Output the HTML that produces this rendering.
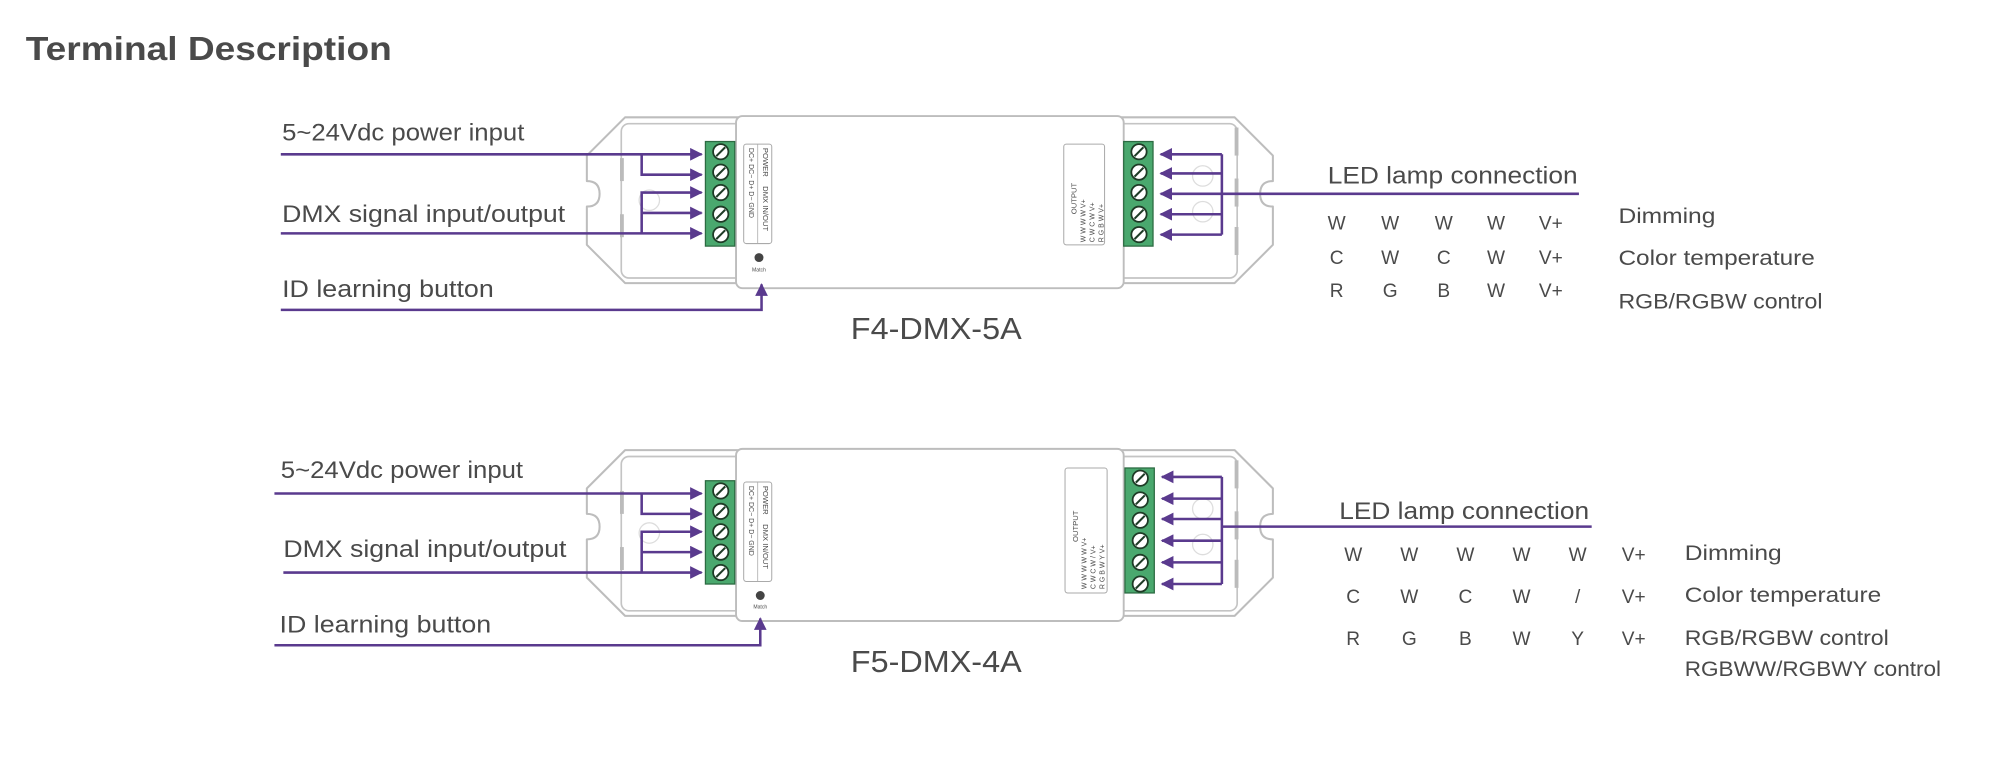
<!DOCTYPE html>
<html><head><meta charset="utf-8"><style>
html,body{margin:0;padding:0;background:#fff;}
svg{display:block;}
text{font-family:"Liberation Sans",sans-serif;fill:#4a4a4a;}
</style></head><body>
<svg width="2000" height="760" viewBox="0 0 1568 596" xmlns="http://www.w3.org/2000/svg">
<defs>
<marker id="ar" markerWidth="10" markerHeight="10" refX="9" refY="5" orient="auto" markerUnits="userSpaceOnUse">
<path d="M0,0 L10,5 L0,10 z" fill="#5a3a8e"/>
</marker>
<g id="screw">
<circle r="6" fill="#fff" stroke="#1e3b26" stroke-width="1.4"/>
<line x1="-3.5" y1="3.5" x2="3.5" y2="-3.5" stroke="#1e3b26" stroke-width="1.6"/>
</g>
<g id="body">
<path d="M490,92 L968,92 L998,122 L998,142 Q988,142 988,152 Q988,162 998,162 L998,192 L968,222 L490,222 L460,192 L460,162 Q470,162 470,152 Q470,142 460,142 L460,122 Z" fill="#fff" stroke="#bdbdbd" stroke-width="1.6" stroke-linejoin="round"/>
<rect x="487" y="97" width="483" height="121" rx="6" fill="none" stroke="#c4c4c4" stroke-width="1.3"/>
<circle cx="509" cy="157" r="8" fill="none" stroke="#ddd"/>
<circle cx="943" cy="138" r="8" fill="none" stroke="#ddd"/>
<circle cx="943" cy="166" r="8" fill="none" stroke="#ddd"/>
<rect x="486" y="124" width="3" height="18" fill="#bbb"/><rect x="486" y="168" width="3" height="18" fill="#bbb"/>
<rect x="968" y="100" width="3" height="22" fill="#bbb"/><rect x="968" y="140" width="3" height="22" fill="#bbb"/><rect x="968" y="178" width="3" height="22" fill="#bbb"/>
<rect x="577" y="91" width="304" height="135" rx="5" fill="#fff" stroke="#bdbdbd" stroke-width="1.5"/>
</g>
</defs>

<text x="20" y="47" font-size="26" font-weight="bold" fill="#555" textLength="287" lengthAdjust="spacingAndGlyphs">Terminal Description</text>

<!-- Device 1 -->
<use href="#body"/>
<rect x="553" y="111" width="23" height="82" fill="#4aa86e" stroke="#2c6b42" stroke-width="1"/>
<use href="#screw" x="565" y="119"/><use href="#screw" x="565" y="135"/><use href="#screw" x="565" y="151"/><use href="#screw" x="565" y="168"/><use href="#screw" x="565" y="184"/>
<rect x="583" y="113" width="22" height="78" rx="2" fill="#fff" stroke="#aaa" stroke-width="0.8"/>
<line x1="594" y1="113" x2="594" y2="191" stroke="#aaa" stroke-width="0.6"/>
<text font-size="6" transform="translate(598,116) rotate(90)">POWER</text>
<text font-size="6" transform="translate(598,146) rotate(90)">DMX IN/OUT</text>
<text font-size="5.5" transform="translate(587,116) rotate(90)">DC+ DC−  D+  D−  GND</text>
<circle cx="595" cy="202" r="3.5" fill="#444"/>
<text x="595" y="213" font-size="4" text-anchor="middle">Match</text>
<rect x="834" y="113" width="32" height="79" rx="2" fill="#fff" stroke="#aaa" stroke-width="0.8"/>
<text font-size="6" transform="translate(844,168) rotate(-90)">OUTPUT</text>
<text font-size="5.5" transform="translate(851,190) rotate(-90)">W  W  W  W  V+</text>
<text font-size="5.5" transform="translate(858,190) rotate(-90)">C  W  C  W  V+</text>
<text font-size="5.5" transform="translate(865,190) rotate(-90)">R  G  B  W  V+</text>
<rect x="881" y="111" width="23" height="82" fill="#4aa86e" stroke="#2c6b42" stroke-width="1"/>
<use href="#screw" x="893" y="119"/><use href="#screw" x="893" y="135"/><use href="#screw" x="893" y="151"/><use href="#screw" x="893" y="168"/><use href="#screw" x="893" y="184"/>

<g stroke="#5a3a8e" stroke-width="2" fill="none">
<path d="M220,121 H550" marker-end="url(#ar)"/>
<path d="M503,121 V137 H550" marker-end="url(#ar)"/>
<path d="M220,183 H550" marker-end="url(#ar)"/>
<path d="M503,183 V151 H550" marker-end="url(#ar)"/>
<path d="M503,167 H550" marker-end="url(#ar)"/>
<path d="M220,243 H597 V223" marker-end="url(#ar)"/>
<path d="M958,121 V184"/>
<path d="M958,121 H910" marker-end="url(#ar)"/><path d="M958,136 H910" marker-end="url(#ar)"/><path d="M958,152 H910" marker-end="url(#ar)"/><path d="M958,168 H910" marker-end="url(#ar)"/><path d="M958,184 H910" marker-end="url(#ar)"/>
<path d="M958,152 H1238"/>
</g>
<text x="221" y="110" font-size="19" textLength="190" lengthAdjust="spacingAndGlyphs">5~24Vdc power input</text>
<text x="221" y="174" font-size="19" textLength="222" lengthAdjust="spacingAndGlyphs">DMX signal input/output</text>
<text x="221" y="233" font-size="19" textLength="166" lengthAdjust="spacingAndGlyphs">ID learning button</text>
<text x="734" y="266" font-size="24" text-anchor="middle" fill="#555" textLength="134" lengthAdjust="spacingAndGlyphs">F4-DMX-5A</text>
<text x="1041" y="144" font-size="19" textLength="196" lengthAdjust="spacingAndGlyphs">LED lamp connection</text>
<g font-size="15" text-anchor="middle">
<text x="1048" y="180">W</text><text x="1090" y="180">W</text><text x="1132" y="180">W</text><text x="1173" y="180">W</text><text x="1216" y="180">V+</text>
<text x="1048" y="207">C</text><text x="1090" y="207">W</text><text x="1132" y="207">C</text><text x="1173" y="207">W</text><text x="1216" y="207">V+</text>
<text x="1048" y="233">R</text><text x="1090" y="233">G</text><text x="1132" y="233">B</text><text x="1173" y="233">W</text><text x="1216" y="233">V+</text>
</g>
<text x="1269" y="175" font-size="17" textLength="76" lengthAdjust="spacingAndGlyphs">Dimming</text>
<text x="1269" y="208" font-size="17" textLength="154" lengthAdjust="spacingAndGlyphs">Color temperature</text>
<text x="1269" y="242" font-size="17" textLength="160" lengthAdjust="spacingAndGlyphs">RGB/RGBW control</text>

<!-- Device 2 -->
<use href="#body" transform="translate(0,261)"/>
<rect x="553" y="377" width="23" height="81" fill="#4aa86e" stroke="#2c6b42" stroke-width="1"/>
<use href="#screw" x="565" y="385"/><use href="#screw" x="565" y="401"/><use href="#screw" x="565" y="417"/><use href="#screw" x="565" y="433"/><use href="#screw" x="565" y="449"/>
<rect x="583" y="378" width="22" height="78" rx="2" fill="#fff" stroke="#aaa" stroke-width="0.8"/>
<line x1="594" y1="378" x2="594" y2="456" stroke="#aaa" stroke-width="0.6"/>
<text font-size="6" transform="translate(598,381) rotate(90)">POWER</text>
<text font-size="6" transform="translate(598,411) rotate(90)">DMX IN/OUT</text>
<text font-size="5.5" transform="translate(587,381) rotate(90)">DC+ DC−  D+  D−  GND</text>
<circle cx="596" cy="467" r="3.5" fill="#444"/>
<text x="596" y="477" font-size="4" text-anchor="middle">Match</text>
<rect x="835" y="367" width="33" height="98" rx="2" fill="#fff" stroke="#aaa" stroke-width="0.8"/>
<text font-size="6" transform="translate(845,425) rotate(-90)">OUTPUT</text>
<text font-size="5.5" transform="translate(852,462) rotate(-90)">W   W   W   W   W   V+</text>
<text font-size="5.5" transform="translate(859,462) rotate(-90)">C   W   C   W   /   V+</text>
<text font-size="5.5" transform="translate(866,462) rotate(-90)">R   G   B   W   Y   V+</text>
<rect x="882" y="367" width="23" height="98" fill="#4aa86e" stroke="#2c6b42" stroke-width="1"/>
<use href="#screw" x="894" y="375"/><use href="#screw" x="894" y="392"/><use href="#screw" x="894" y="408"/><use href="#screw" x="894" y="424"/><use href="#screw" x="894" y="441"/><use href="#screw" x="894" y="458"/>

<g stroke="#5a3a8e" stroke-width="2" fill="none">
<path d="M215,387 H550" marker-end="url(#ar)"/>
<path d="M503,387 V403 H550" marker-end="url(#ar)"/>
<path d="M222,449 H550" marker-end="url(#ar)"/>
<path d="M503,449 V417 H550" marker-end="url(#ar)"/>
<path d="M503,433 H550" marker-end="url(#ar)"/>
<path d="M215,506 H596 V485" marker-end="url(#ar)"/>
<path d="M958,374 V458"/>
<path d="M958,374 H911" marker-end="url(#ar)"/><path d="M958,391 H911" marker-end="url(#ar)"/><path d="M958,407 H911" marker-end="url(#ar)"/><path d="M958,424 H911" marker-end="url(#ar)"/><path d="M958,441 H911" marker-end="url(#ar)"/><path d="M958,458 H911" marker-end="url(#ar)"/>
<path d="M958,413 H1248"/>
</g>
<text x="220" y="375" font-size="19" textLength="190" lengthAdjust="spacingAndGlyphs">5~24Vdc power input</text>
<text x="222" y="437" font-size="19" textLength="222" lengthAdjust="spacingAndGlyphs">DMX signal input/output</text>
<text x="219" y="496" font-size="19" textLength="166" lengthAdjust="spacingAndGlyphs">ID learning button</text>
<text x="734" y="527" font-size="24" text-anchor="middle" fill="#555" textLength="134" lengthAdjust="spacingAndGlyphs">F5-DMX-4A</text>
<text x="1050" y="407" font-size="19" textLength="196" lengthAdjust="spacingAndGlyphs">LED lamp connection</text>
<g font-size="15" text-anchor="middle">
<text x="1061" y="440">W</text><text x="1105" y="440">W</text><text x="1149" y="440">W</text><text x="1193" y="440">W</text><text x="1237" y="440">W</text><text x="1281" y="440">V+</text>
<text x="1061" y="473">C</text><text x="1105" y="473">W</text><text x="1149" y="473">C</text><text x="1193" y="473">W</text><text x="1237" y="473">/</text><text x="1281" y="473">V+</text>
<text x="1061" y="506">R</text><text x="1105" y="506">G</text><text x="1149" y="506">B</text><text x="1193" y="506">W</text><text x="1237" y="506">Y</text><text x="1281" y="506">V+</text>
</g>
<text x="1321" y="439" font-size="17" textLength="76" lengthAdjust="spacingAndGlyphs">Dimming</text>
<text x="1321" y="472" font-size="17" textLength="154" lengthAdjust="spacingAndGlyphs">Color temperature</text>
<text x="1321" y="506" font-size="17" textLength="160" lengthAdjust="spacingAndGlyphs">RGB/RGBW control</text>
<text x="1321" y="530" font-size="17" textLength="201" lengthAdjust="spacingAndGlyphs">RGBWW/RGBWY control</text>
</svg>
</body></html>
